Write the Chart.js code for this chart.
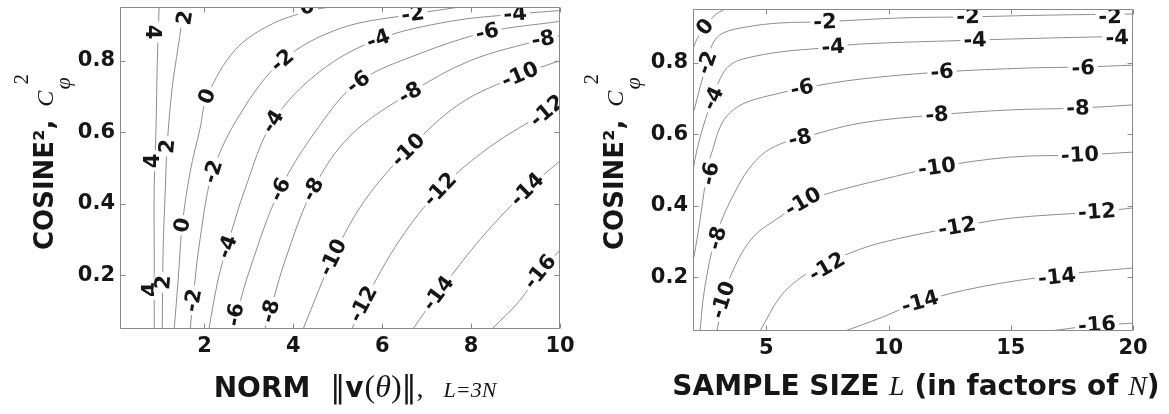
<!DOCTYPE html>
<html><head><meta charset="utf-8">
<script src="https://cdn.jsdelivr.net/npm/chart.js@4.4.1/dist/chart.umd.min.js"></script>
<style>
html,body{margin:0;padding:0;background:#fff;width:1169px;height:414px;overflow:hidden}
.w{position:absolute;top:0;height:414px}
</style></head><body>
<div class="w" style="left:0;width:580px"><canvas id="c1" width="580" height="414"></canvas></div>
<div class="w" style="left:580px;width:589px"><canvas id="c2" width="589" height="414"></canvas></div>
<script>
// ---------- data ----------
const leftXTicks = [2, 4, 6, 8, 10];
const rightXTicks = [5, 10, 15, 20];
const yTickValues = [0.2, 0.4, 0.6, 0.8];

const leftLevels = [4, 2, 0, -2, -4, -6, -8, -10, -12, -14, -16];
const left_p4 = [[0.87,0.05],[0.87,0.25],[0.87,0.45],[0.91,0.61],[0.94,0.80],[0.98,0.95]];
const left_p2 = [[1.05,0.05],[1.07,0.27],[1.11,0.41],[1.16,0.56],[1.27,0.72],[1.41,0.84],[1.54,0.95]];
const left_0  = [[1.32,0.05],[1.41,0.19],[1.50,0.34],[1.68,0.49],[1.90,0.61],[2.06,0.70],[2.69,0.83],[3.48,0.90],[4.38,0.94],[4.83,0.95]];
const left_m2 = [[1.68,0.05],[1.74,0.13],[1.90,0.30],[2.19,0.49],[2.80,0.65],[3.75,0.80],[5.05,0.89],[6.69,0.93],[7.75,0.95]];
const left_m4 = [[2.10,0.05],[2.31,0.19],[2.51,0.28],[2.91,0.44],[3.54,0.63],[4.60,0.77],[5.91,0.86],[7.53,0.91],[8.99,0.93],[10,0.94]];
const left_m6 = [[2.69,0.05],[2.73,0.09],[3.03,0.22],[3.70,0.44],[4.60,0.62],[5.46,0.74],[6.85,0.82],[8.36,0.88],[10,0.91]];
const left_m8 = [[3.36,0.05],[3.48,0.10],[3.81,0.24],[4.44,0.44],[5.28,0.59],[6.63,0.71],[7.98,0.80],[9.62,0.86],[10,0.87]];
const left_m10 = [[4.22,0.05],[4.89,0.25],[5.61,0.41],[6.58,0.55],[7.75,0.68],[9.10,0.76],[10,0.80]];
const left_m12 = [[5.32,0.05],[5.57,0.12],[6.40,0.30],[7.30,0.44],[8.43,0.56],[9.71,0.66],[10,0.69]];
const left_m14 = [[6.69,0.05],[7.26,0.15],[8.20,0.30],[9.26,0.44],[10,0.52]];
const left_m16 = [[8.47,0.05],[9.10,0.13],[9.55,0.21],[10,0.27]];
const leftLines = [left_p4, left_p2, left_0, left_m2, left_m4, left_m6, left_m8, left_m10, left_m12, left_m14, left_m16];

// contour labels: [level, x, y, angle]
const leftLabels = [
  [4,0.84,0.88,90],[2,1.56,0.92,-81],[0,2.06,0.70,-69],[-2,3.75,0.80,-40],[-2,2.19,0.49,-72],
  [4,0.84,0.52,-90],[2,1.16,0.56,-85],[-4,3.54,0.63,-58],[-6,3.70,0.44,-64],[0,1.50,0.34,-80],
  [-4,2.51,0.28,-70],[4,0.78,0.16,-90],[2,1.07,0.18,-85],[-2,1.74,0.13,-80],[-6,2.69,0.09,-80],
  [-8,3.48,0.10,-75],[-10,4.89,0.25,-64],[-12,5.57,0.12,-62],[-14,7.26,0.15,-53],[-16,9.55,0.21,-51],
  [-8,4.44,0.44,-62],[-10,6.58,0.55,-45],[-12,7.30,0.44,-47],[-14,9.26,0.44,-45],[-6,5.46,0.74,-36],
  [-8,6.63,0.71,-31],[-10,9.10,0.76,-23],[-12,9.71,0.66,-40],[-4,5.91,0.86,-20],[-6,8.36,0.88,-13],
  [-8,9.62,0.86,-10],[0,4.31,0.95,-10],[-2,6.69,0.93,-8],[-4,8.99,0.93,-5]
];

const rightLevels = [0, -2, -4, -6, -8, -10, -12, -14, -16];
const right_0  = [[2.0,0.838],[2.16,0.866],[2.49,0.90],[2.90,0.933],[3.23,0.947],[3.3,0.95]];
const right_m2 = [[2.0,0.659],[2.08,0.676],[2.29,0.732],[2.57,0.799],[2.82,0.855],[3.23,0.883],[4.21,0.90],[5.56,0.911],[7.24,0.914],[10.47,0.925],[13.25,0.928],[16.61,0.933],[20,0.936]];
const right_m4 = [[2.0,0.50],[2.16,0.556],[2.41,0.62],[2.82,0.704],[3.23,0.771],[3.64,0.799],[4.21,0.813],[5.56,0.83],[7.32,0.841],[8.83,0.852],[13.54,0.863],[16.61,0.869],[20,0.874]];
const right_m6 = [[2.04,0.257],[2.29,0.36],[2.61,0.51],[2.82,0.56],[3.11,0.62],[3.51,0.66],[4.21,0.69],[5.56,0.715],[6.50,0.729],[8.83,0.754],[12.19,0.774],[15.67,0.785],[17.96,0.788],[20,0.793]];
const right_m8 = [[2.29,0.05],[2.41,0.137],[2.57,0.207],[2.78,0.276],[3.02,0.332],[3.35,0.388],[3.76,0.444],[4.25,0.50],[4.95,0.55],[5.77,0.578],[6.38,0.589],[8.83,0.631],[11.98,0.654],[14.97,0.668],[17.75,0.673],[20,0.682]];
const right_m10 = [[2.98,0.05],[3.23,0.137],[3.64,0.22],[4.46,0.313],[5.56,0.369],[6.50,0.411],[8.02,0.444],[9.65,0.472],[11.98,0.508],[14.97,0.536],[17.83,0.542],[20,0.55]];
const right_m12 = [[4.74,0.05],[5.56,0.145],[6.38,0.198],[7.20,0.229],[8.02,0.257],[9.65,0.296],[12.8,0.341],[15.09,0.366],[18.53,0.383],[20,0.394]];
const right_m14 = [[8.22,0.05],[9.65,0.086],[11.29,0.131],[13.74,0.173],[17.02,0.207],[20,0.226]];
const right_m16 = [[16.61,0.05],[18.24,0.064],[20,0.072]];
const rightLines = [right_0, right_m2, right_m4, right_m6, right_m8, right_m10, right_m12, right_m14, right_m16];

const rightLabels = [
  [0,2.49,0.90,-50],[-2,2.57,0.80,-70],[-4,2.82,0.70,-65],[-6,2.70,0.49,-78],[-8,2.98,0.31,-75],
  [-10,3.23,0.137,-72],[-2,7.40,0.914,-2],[-4,7.73,0.844,-4],[-6,6.46,0.729,-12],[-8,6.38,0.589,-14],
  [-10,6.50,0.411,-30],[-12,7.48,0.229,-30],[-2,13.25,0.928,-1],[-2,19.06,0.928,-1],[-4,13.54,0.863,-2],
  [-4,19.35,0.869,-2],[-6,12.19,0.774,-4],[-6,17.96,0.785,-2],[-8,11.98,0.654,-5],[-8,17.75,0.673,-2],
  [-10,11.98,0.508,-8],[-10,17.83,0.542,-3],[-12,12.8,0.341,-10],[-12,18.53,0.383,-4],[-14,11.29,0.131,-16],
  [-14,16.89,0.201,-6],[-16,18.53,0.067,-4]
];

// ---------- style ----------
const SANS = '"DejaVu Sans", sans-serif';
const SERIF = '"Liberation Serif", "DejaVu Serif", serif';
const TXT = '#161616';
const LINE = '#8e8e8e';

function drawRuns(ctx, runs, startX, baseY) {
  let x = startX;
  runs.forEach(r => {
    ctx.font = r.f;
    ctx.fillText(r.t, x + (r.dx || 0), baseY + (r.dy || 0));
    if (!r.stack) x += ctx.measureText(r.t).width + (r.g || 0);
  });
}
function runsWidth(ctx, runs) {
  let w = 0;
  runs.forEach(r => { ctx.font = r.f; if (!r.stack) w += ctx.measureText(r.t).width + (r.g || 0); });
  return w;
}

function contourPlugin(labels, xTicks, xTitleRuns, xTitleDx, xTitleBase, yTitleBase) {
  return {
    id: 'contour',
    afterDatasetsDraw(chart) {
      const {ctx, chartArea: a, scales: {x, y}} = chart;
      ctx.save();
      ctx.beginPath(); ctx.rect(a.left, a.top, a.right - a.left, a.bottom - a.top); ctx.clip();
      ctx.font = 'bold 21px ' + SANS;
      ctx.textAlign = 'center'; ctx.textBaseline = 'middle';
      labels.forEach(([v, lx, ly, ang]) => {
        const t = String(v);
        const px = x.getPixelForValue(lx), py = y.getPixelForValue(ly);
        ctx.save(); ctx.translate(px, py); ctx.rotate(ang * Math.PI / 180);
        const w = ctx.measureText(t).width;
        ctx.fillStyle = '#fff'; ctx.fillRect(-w / 2 - 3, -9, w + 6, 18);
        ctx.fillStyle = TXT; ctx.fillText(t, 0, 1);
        ctx.restore();
      });
      ctx.restore();
      // box with inward ticks
      ctx.save();
      ctx.strokeStyle = '#8a8a8a'; ctx.lineWidth = 1;
      const L = Math.round(a.left) + 0.5, R = Math.round(a.right) - 0.5, T = Math.round(a.top) + 0.5, B = Math.round(a.bottom) - 0.5;
      ctx.beginPath();
      ctx.rect(L, T, R - L, B - T);
      xTicks.forEach(v => {
        const px = Math.round(x.getPixelForValue(v)) + 0.5;
        ctx.moveTo(px, B); ctx.lineTo(px, B - 5);
        ctx.moveTo(px, T); ctx.lineTo(px, T + 5);
      });
      yTickValues.forEach(v => {
        const py = Math.round(y.getPixelForValue(v)) + 0.5;
        ctx.moveTo(L, py); ctx.lineTo(L + 5, py);
        ctx.moveTo(R, py); ctx.lineTo(R - 5, py);
      });
      ctx.stroke();
      ctx.restore();
    },
    afterDraw(chart) {
      const {ctx, chartArea: a} = chart;
      ctx.save();
      ctx.fillStyle = TXT; ctx.textAlign = 'left'; ctx.textBaseline = 'alphabetic';
      const cx = (a.left + a.right) / 2 + xTitleDx;
      const w = runsWidth(ctx, xTitleRuns);
      drawRuns(ctx, xTitleRuns, cx - w / 2, xTitleBase);
      // y title (rotated)
      ctx.translate(yTitleBase, 250);
      ctx.rotate(-Math.PI / 2);
      const yRuns = [
        {t: 'COSINE\u00B2,', f: 'bold 26px ' + SANS, g: 13},
        {t: 'C', f: 'italic 24px ' + SERIF, g: 1},
        {t: '\u03C6', f: 'italic 22px ' + SERIF, dy: 17, stack: true},
        {t: '2', f: '21px ' + SERIF, dy: -25, dx: 5, stack: true}
      ];
      drawRuns(ctx, yRuns, 0, 0);
      ctx.restore();
    }
  };
}

function makeChart(id, lines, levels, labels, xMin, xMax, xTicks, yW, xH, pad, plugin) {
  const datasets = lines.map((pts, i) => ({
    label: 'level ' + levels[i],
    data: pts.map(([px, py]) => ({x: px, y: py})),
    showLine: true, pointRadius: 0, pointHoverRadius: 0,
    borderColor: LINE, borderWidth: 1, tension: 0.35, fill: false
  }));
  return new Chart(document.getElementById(id), {
    type: 'scatter',
    data: {datasets},
    options: {
      responsive: false, animation: false, devicePixelRatio: 1,
      layout: {padding: pad},
      plugins: {legend: {display: false}, tooltip: {enabled: false}},
      events: [],
      scales: {
        x: {
          type: 'linear', min: xMin, max: xMax,
          afterBuildTicks: s => { s.ticks = xTicks.map(v => ({value: v})); },
          afterFit: s => { s.height = xH; s.paddingLeft = 0; s.paddingRight = 0; },
          grid: {display: false, drawTicks: false}, border: {display: false},
          ticks: {font: {family: SANS, size: 21, weight: 'bold'}, color: TXT, padding: 5, maxRotation: 0, autoSkip: false, callback: v => String(v)}
        },
        y: {
          type: 'linear', min: 0.05, max: 0.95,
          afterBuildTicks: s => { s.ticks = yTickValues.map(v => ({value: v})); },
          afterFit: s => { s.width = yW; s.paddingTop = 0; s.paddingBottom = 0; },
          grid: {display: false, drawTicks: false}, border: {display: false},
          ticks: {font: {family: SANS, size: 21, weight: 'bold'}, color: TXT, padding: 5, autoSkip: false, callback: v => String(v)}
        }
      }
    },
    plugins: [plugin]
  });
}

const leftTitle = [
  {t: 'NORM', f: 'bold 28px ' + SANS, g: 20},
  {t: '\u2016', f: '30px ' + SANS, g: 0},
  {t: 'v', f: 'bold 28px ' + SANS, g: 1},
  {t: '(', f: '32px ' + SERIF, g: 0},
  {t: '\u03B8', f: 'italic 32px ' + SERIF, g: 0},
  {t: ')', f: '32px ' + SERIF, g: 0},
  {t: '\u2016', f: '30px ' + SANS, g: 0},
  {t: ',', f: '28px ' + SERIF, g: 20},
  {t: 'L=3N', f: 'italic 22px ' + SERIF, g: 0}
];
const rightTitle = [
  {t: 'SAMPLE SIZE ', f: 'bold 28px ' + SANS},
  {t: 'L', f: 'italic 28px ' + SERIF},
  {t: ' (in factors of ', f: 'bold 28px ' + SANS},
  {t: 'N', f: 'italic 28px ' + SERIF},
  {t: ')', f: 'bold 28px ' + SANS}
];

makeChart('c1', leftLines, leftLevels, leftLabels, 0.1, 10, leftXTicks, 120, 85,
  {left: 0, top: 7, right: 20, bottom: 0},
  contourPlugin(leftLabels, leftXTicks, leftTitle, 15, 397, 53));
makeChart('c2', rightLines, rightLevels, rightLabels, 2, 20, rightXTicks, 113, 83,
  {left: 0, top: 9, right: 36, bottom: 0},
  contourPlugin(rightLabels, rightXTicks, rightTitle, 3, 395, 43));
</script></body></html>
